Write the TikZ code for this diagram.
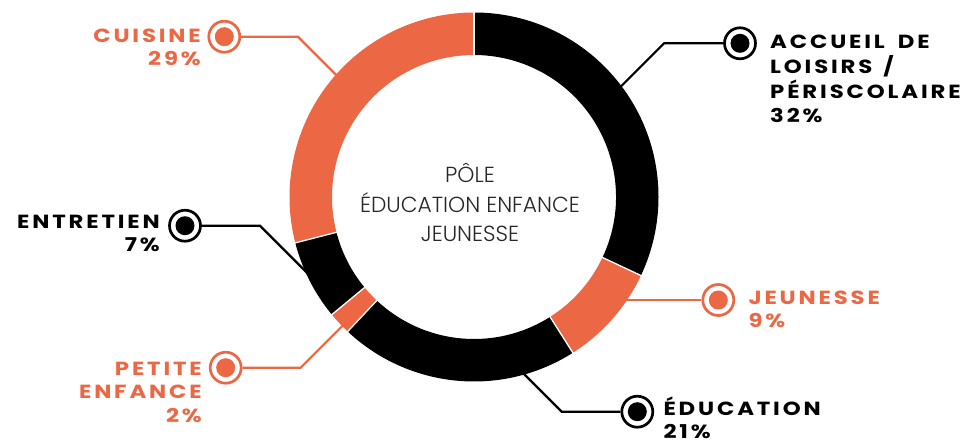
\documentclass[tikz,border=0pt]{standalone}
\usepackage{fontspec}
\newfontfamily\labfont{Poppins}[FakeStretch=1.2, LetterSpace=15]
\newfontfamily\ctrfont{Poppins Light}
\definecolor{accent}{RGB}{236,104,69}
\begin{document}
\begin{tikzpicture}[x=1pt,y=-1pt,
  conn/.style={line width=2.2pt},
  marker/.style={circle, draw=#1, fill=white, line width=2.7pt, minimum size=31pt, inner sep=0pt,
    path picture={\fill[#1] (path picture bounding box.center) circle[radius=9.5pt];}},
  lab/.style={inner sep=0pt, font=\labfont\bfseries\fontsize{19}{23.5}\selectfont}]
\fill[white] (0,0) rectangle (967,440);
\useasboundingbox (0,0) rectangle (967,440);

% markers
\node[marker=accent] (mC) at (224.3,36.7) {};
\node[marker=black] (mA) at (740,43.3) {};
\node[marker=black] (mT) at (185,225.7) {};
\node[marker=accent] (mJ) at (718.3,300) {};
\node[marker=accent] (mP) at (225.7,367.7) {};
\node[marker=black] (mE) at (637.3,411.7) {};

% ring end points
\coordinate (eC) at (345,83.7);
\coordinate (eA) at (610,97.3);
\coordinate (eT) at (318,283.7);
\coordinate (eJ) at (615,300);
\coordinate (eP) at (350.7,317.7);
\coordinate (eE) at (519.7,369.7);

% connectors
\draw[conn, accent] (mC) -- (298,36.7) -- (eC);
\draw[conn, black] (mA) -- (664,43.3) -- (eA);
\draw[conn, black] (mT) -- (260,225.7) -- (eT);
\draw[conn, accent] (mJ) -- (eJ);
\draw[conn, accent] (mP) -- (300.7,367.7) -- (eP);
\draw[conn, black] (mE) -- (561.7,411.7) -- (eE);

% donut
\begin{scope}[shift={(474,197)}, y=1pt]
  \foreach \a/\b/\c in {90/-25.2/black, -25.2/-57.6/accent, -57.6/-133.2/black, -133.2/-140.4/accent, -140.4/-165.6/black, -165.6/-270/accent}
    \fill[\c] (\a:184.5) arc[start angle=\a, end angle=\b, radius=184.5] -- (\b:142) arc[start angle=\b, end angle=\a, radius=142] -- cycle;
  \foreach \a in {90,-25.2,-57.6,-133.2,-140.4,-165.6}
    \draw[white, line width=1.3pt] (\a:140) -- (\a:187);
\end{scope}

% labels
\node[lab, text=accent, anchor=base east] (tC) at (201,42) {\begin{tabular}[t]{@{}r@{}}CUISINE\\29\%\end{tabular}};
\node[lab, text=black, anchor=base west] (tA) at (770,48.3) {\begin{tabular}[t]{@{}l@{}}ACCUEIL\hspace{13pt}DE\\LOISIRS\hspace{11pt}/\\PÉRISCOLAIRE\\32\%\end{tabular}};
\node[lab, text=black, anchor=base east] (tT) at (160,228) {\begin{tabular}[t]{@{}r@{}}ENTRETIEN\\7\%\end{tabular}};
\node[lab, text=accent, anchor=base west] (tJ) at (748.3,304.3) {\begin{tabular}[t]{@{}l@{}}JEUNESSE\\9\%\end{tabular}};
\node[lab, text=accent, anchor=base east] (tP) at (202,375) {\begin{tabular}[t]{@{}r@{}}PETITE\\ENFANCE\\2\%\end{tabular}};
\node[lab, text=black, anchor=base west] (tE) at (663.3,415) {\begin{tabular}[t]{@{}l@{}}ÉDUCATION\\21\%\end{tabular}};

% centre
\node[inner sep=0pt, text=black!85, font=\ctrfont\fontsize{21.8}{29.5}\selectfont, anchor=base] (ctr) at (470,182.7)
  {\begin{tabular}[t]{@{}c@{}}PÔLE\\ÉDUCATION ENFANCE\\JEUNESSE\end{tabular}};
\end{tikzpicture}
\end{document}
